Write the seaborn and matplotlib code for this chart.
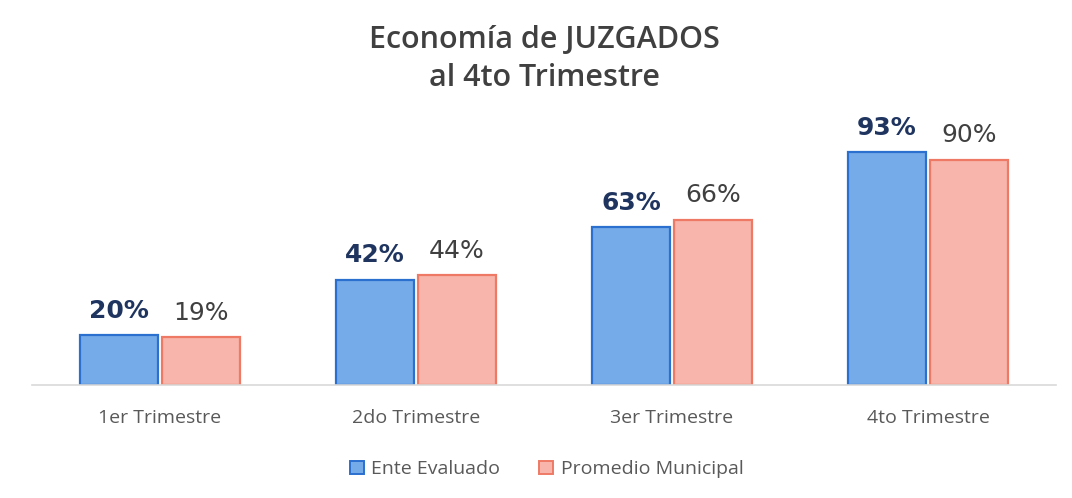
import seaborn as sns
import matplotlib.pyplot as plt
import pandas as pd

trimestres = ["1er Trimestre", "2do Trimestre", "3er Trimestre", "4to Trimestre"]
ente_evaluado = [20, 42, 63, 93]
promedio_municipal = [19, 44, 66, 90]
series = ["Ente Evaluado", "Promedio Municipal"]

df = pd.DataFrame({
    "trimestre": trimestres * 2,
    "valor": ente_evaluado + promedio_municipal,
    "serie": [series[0]] * 4 + [series[1]] * 4,
})

sns.set_style("white")
plt.rcParams['font.family'] = ['Open Sans', 'DejaVu Sans']

fig = plt.figure(figsize=(10.72, 4.98), dpi=100)
ax = fig.add_axes([32 / 1072, 1 - 385 / 498, 1024 / 1072, 275 / 498])

fills = ["#75abe9", "#f8b5ab"]
edges = ["#2b6fcf", "#ee7a66"]
sns.barplot(data=df, x="trimestre", y="valor", hue="serie", palette=fills,
            saturation=1, width=0.64, gap=0.04, ax=ax, legend=False)

for i, cont in enumerate(ax.containers):
    for bar in cont:
        bar.set_edgecolor(edges[i])
        bar.set_linewidth(1.6)
# labels: Ente Evaluado bold navy, Promedio regular gray
ax.bar_label(ax.containers[0], labels=[f"{v}%" for v in ente_evaluado], padding=9,
             fontsize=18, fontweight="bold", color="#1f3560", family="DejaVu Sans")
ax.bar_label(ax.containers[1], labels=[f"{v}%" for v in promedio_municipal], padding=9,
             fontsize=18, color="#404040", family="DejaVu Sans")

ax.set_ylim(0, 110)
ax.set_xlim(-0.5, 3.5)
ax.set_xlabel("")
ax.set_ylabel("")
ax.set_yticks([])
ax.tick_params(axis="x", length=0, pad=17, labelsize=14, labelcolor="#595959")
for s in ["top", "right", "left"]:
    ax.spines[s].set_visible(False)
ax.spines["bottom"].set_color("#d9d9d9")
ax.spines["bottom"].set_linewidth(1.2)

fig.text(0.508, 0.92, "Economía de JUZGADOS", ha="center", va="center",
         fontsize=22, fontweight="semibold", color="#404040")
fig.text(0.508, 0.843, "al 4to Trimestre", ha="center", va="center",
         fontsize=22, fontweight="semibold", color="#404040")

handles = [plt.Rectangle((0, 0), 1, 1, facecolor=fills[i], edgecolor=edges[i], linewidth=1.4)
           for i in range(2)]
fig.legend(handles, series, loc="center", bbox_to_anchor=(0.51, 0.058), ncol=2,
           frameon=False, fontsize=14, handlelength=0.7, handleheight=0.7,
           handletextpad=0.4, columnspacing=2.0, labelcolor="#595959")

fig.savefig("out.png", dpi=100)
